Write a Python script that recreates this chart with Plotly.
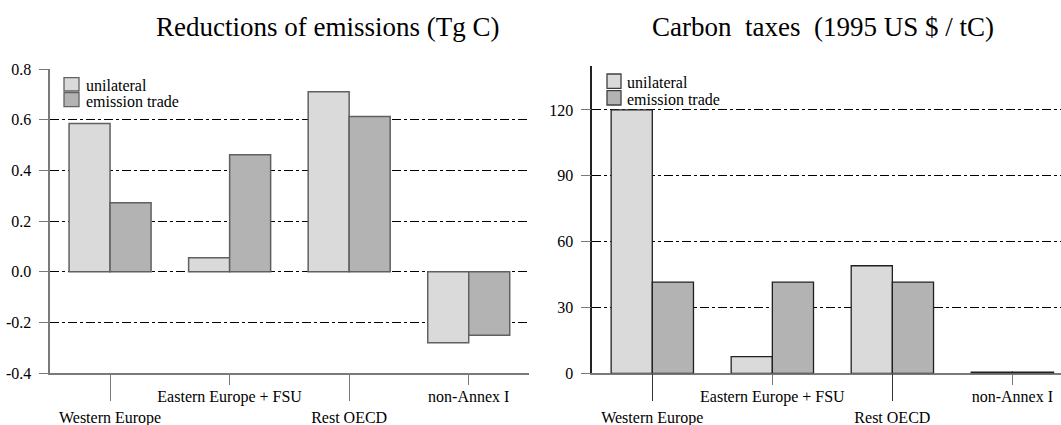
import plotly.graph_objects as go

# ---------------- data ----------------
categories = ["Western Europe", "Eastern Europe + FSU", "Rest OECD", "non-Annex I"]
tick_labels = [" <br>Western Europe", "Eastern Europe + FSU", " <br>Rest OECD", "non-Annex I"]
series_names = ["unilateral", "emission trade"]

reductions_unilateral = [0.585, 0.055, 0.71, -0.28]
reductions_trade = [0.272, 0.462, 0.613, -0.25]

taxes_unilateral = [120.0, 7.6, 49.0, 0.5]
taxes_trade = [41.5, 41.5, 41.5, 0.5]

reduction_ticks = [-0.4, -0.2, 0.0, 0.2, 0.4, 0.6, 0.8]
tax_ticks = [0, 30, 60, 90, 120]

titles = ["Reductions of emissions (Tg C)",
          "Carbon\u00a0\u00a0taxes\u00a0\u00a0(1995 US $ / tC)"]

# ---------------- style ----------------
W, H = 1061, 425
FONT = "Liberation Serif"
LIGHT = "#dadada"
DARK = "#b3b3b3"
GRAY = "#7a7a7a"


def px(x):
    return x / W


def py(y):
    return 1 - y / H


fig = go.Figure()

fig.add_trace(go.Bar(x=categories, y=reductions_unilateral, name=series_names[0],
                     marker=dict(color=LIGHT, line=dict(color="#606060", width=1.5)),
                     xaxis="x", yaxis="y", showlegend=False))
fig.add_trace(go.Bar(x=categories, y=reductions_trade, name=series_names[1],
                     marker=dict(color=DARK, line=dict(color="#606060", width=1.5)),
                     xaxis="x", yaxis="y", showlegend=False))
fig.add_trace(go.Bar(x=categories, y=taxes_unilateral, name=series_names[0],
                     marker=dict(color=LIGHT, line=dict(color="#202020", width=1.3)),
                     xaxis="x2", yaxis="y2", showlegend=False))
fig.add_trace(go.Bar(x=categories, y=taxes_trade, name=series_names[1],
                     marker=dict(color=DARK, line=dict(color="#202020", width=1.3)),
                     xaxis="x2", yaxis="y2", showlegend=False))
# empty traces so the long-tick overlay axes are drawn
fig.add_trace(go.Scatter(x=[], y=[], xaxis="x3", yaxis="y", showlegend=False))
fig.add_trace(go.Scatter(x=[], y=[], xaxis="x4", yaxis="y2", showlegend=False))

long_tick_idx = [i for i in range(len(categories)) if i % 2 == 0]

common_x = dict(type="category", tickmode="array", tickvals=categories, ticktext=tick_labels,
                ticks="outside", ticklen=10, tickwidth=1.2, tickcolor=GRAY, tickangle=0,
                automargin=False, ticklabelstandoff=-2,
                showline=True, linecolor=GRAY, linewidth=1.5, showgrid=False,
                tickfont=dict(family=FONT, size=16, color="black"), fixedrange=True)
common_y = dict(ticks="outside", ticklen=10, tickwidth=1.2, tickcolor=GRAY, automargin=False,
                showline=True, linewidth=1.5, zeroline=False,
                showgrid=True, gridcolor="black", gridwidth=1, griddash="dashdot",
                tickfont=dict(family=FONT, size=16, color="black"), ticklabelstandoff=4)

fig.update_layout(
    width=W, height=H,
    margin=dict(l=0, r=0, t=0, b=0, autoexpand=False),
    paper_bgcolor="white", plot_bgcolor="white",
    barmode="group", bargap=0.314, bargroupgap=0,
    font=dict(family=FONT, size=16, color="black"),
    xaxis=dict(common_x, domain=[px(50.3), px(528.5)], anchor="y", range=[-0.5, 3.5]),
    yaxis=dict(common_y, domain=[py(373.2), py(69)], anchor="x",
               range=[reduction_ticks[0], reduction_ticks[-1]], tickmode="array",
               tickvals=reduction_ticks, ticktext=[f"{v:.1f}" for v in reduction_ticks],
               linecolor=GRAY),
    xaxis2=dict(common_x, domain=[px(592.3), 1.0], anchor="y2", range=[-0.5, 3.405],
                layer="below traces"),
    yaxis2=dict(common_y, domain=[py(373.3), py(66)], anchor="x2", range=[0, 140],
                tickmode="array", tickvals=tax_ticks, linecolor="#222222"),
    xaxis3=dict(overlaying="x", anchor="y", type="linear", range=[-0.5, 3.5],
                tickmode="array", tickvals=long_tick_idx, ticks="outside", ticklen=27,
                tickwidth=1.2, tickcolor=GRAY, showticklabels=False, showline=False,
                showgrid=False, zeroline=False, side="bottom", fixedrange=True,
                automargin=False),
    xaxis4=dict(overlaying="x2", anchor="y2", type="linear", range=[-0.5, 3.405],
                tickmode="array", tickvals=long_tick_idx, ticks="outside", ticklen=27,
                tickwidth=1.2, tickcolor="#333333", showticklabels=False, showline=False,
                showgrid=False, zeroline=False, side="bottom", fixedrange=True,
                automargin=False),
)

# titles
fig.add_annotation(text=titles[0], x=px(327.5), y=py(38), xref="paper", yref="paper",
                   xanchor="center", yanchor="bottom", showarrow=False,
                   font=dict(family=FONT, size=27, color="black"), yshift=-6)
fig.add_annotation(text=titles[1], x=px(822.5), y=py(38), xref="paper", yref="paper",
                   xanchor="center", yanchor="bottom", showarrow=False,
                   font=dict(family=FONT, size=27, color="black"), yshift=-6)

# custom legends (one per panel)
legend_boxes = [
    # (x0, x1, [(y0, y1), (y0, y1)], text_x, edge color)
    (64, 79, [(77.7, 91.0), (92.7, 106.7)], 84, "#606060"),
    (607, 621, [(74.0, 88.3), (90.7, 105.0)], 625, "#404040"),
]
fills = [LIGHT, DARK]
for x0, x1, rows, tx, edge in legend_boxes:
    for (y0, y1), fill, name in zip(rows, fills, series_names):
        fig.add_shape(type="rect", xref="paper", yref="paper",
                      x0=px(x0), x1=px(x1), y0=py(y1), y1=py(y0),
                      fillcolor=fill, line=dict(color=edge, width=1.3))
        fig.add_annotation(text=name, x=px(tx), y=py((y0 + y1) / 2 + 1), xref="paper",
                           yref="paper", xanchor="left", yanchor="middle", height=14,
                           showarrow=False, font=dict(family=FONT, size=16, color="black"))

fig.write_html("out.html")
